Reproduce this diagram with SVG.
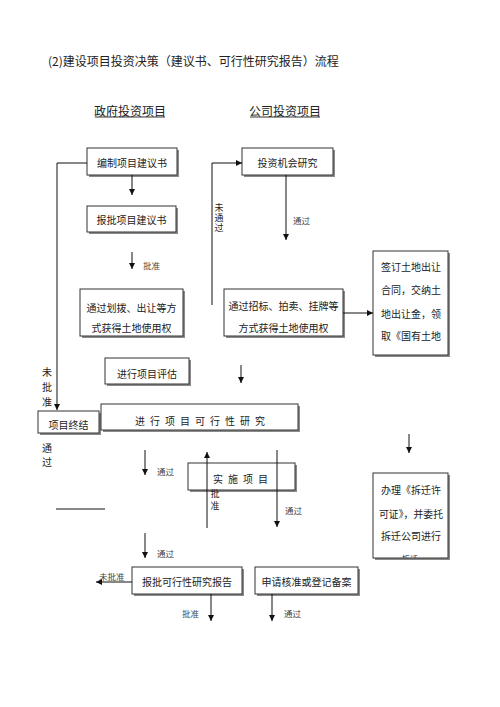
<svg xmlns="http://www.w3.org/2000/svg" width="500" height="707" viewBox="0 0 500 707">
<style>
text{font-family:"Noto Sans CJK SC","Noto Sans",sans-serif;fill:#222;dominant-baseline:central}
.t{font-size:12px}
.b{font-size:10px;text-anchor:middle}
.bs{font-size:10px}
.s{font-size:8.5px;fill:#444}
.vt{writing-mode:vertical-rl;text-anchor:start}
.sh{fill:#8a8a8a}
.bx{fill:#fff;stroke:#333;stroke-width:1}
.c{fill:none;stroke:#111;stroke-width:1}
.u{stroke:#333;stroke-width:1}
</style>
<defs>
<marker id="ah" markerUnits="userSpaceOnUse" markerWidth="6" markerHeight="6" refX="6" refY="3" orient="auto"><path d="M0,0 L6,3 L0,6 z" fill="#111"/></marker>
<clipPath id="clip11"><rect x="373" y="473" width="75" height="85"/></clipPath>
</defs>
<rect width="500" height="707" fill="#fff"/>
<g id="title">
<text class="t" x="48" y="60">(2)建设项目投资决策（建议书、可行性研究报告）流程</text>
</g>
<g id="headers">
<text class="t" x="130" y="110" text-anchor="middle">政府投资项目</text>
<line class="u" x1="95" y1="117" x2="165" y2="117"/>
<text class="t" x="285" y="110" text-anchor="middle">公司投资项目</text>
<line class="u" x1="250" y1="117" x2="320" y2="117"/>
</g>
<g id="n1"><rect class="sh" x="89" y="150" width="90" height="27"/><rect class="bx" x="87" y="148" width="90" height="27"/><text class="b" x="132" y="162">编制项目建议书</text></g>
<g id="n2"><rect class="sh" x="89" y="208" width="89" height="26"/><rect class="bx" x="87" y="206" width="89" height="26"/><text class="b" x="131.5" y="219">报批项目建议书</text></g>
<g id="n3"><rect class="sh" x="82" y="291" width="103" height="47"/><rect class="bx" x="80" y="289" width="103" height="47"/><text class="b" x="131.5" y="307">通过划拨、出让等方</text><text class="b" x="131.5" y="327">式获得土地使用权</text></g>
<g id="n4"><rect class="sh" x="244" y="150" width="91" height="27"/><rect class="bx" x="242" y="148" width="91" height="27"/><text class="b" x="287.5" y="162">投资机会研究</text></g>
<g id="n5"><rect class="sh" x="226" y="291" width="119" height="47"/><rect class="bx" x="224" y="289" width="119" height="47"/><text class="b" x="283.5" y="305">通过招标、拍卖、挂牌等</text><text class="b" x="283.5" y="327">方式获得土地使用权</text></g>
<g id="n6"><rect class="sh" x="375" y="253" width="75" height="104"/><rect class="bx" x="373" y="251" width="75" height="104"/><text class="bs" x="381" y="266">签订土地出让</text><text class="bs" x="381" y="289">合同，交纳土</text><text class="bs" x="381" y="313">地出让金，领</text><text class="bs" x="381" y="335">取《国有土地</text></g>
<g id="n7"><rect class="sh" x="107" y="360" width="84" height="26"/><rect class="bx" x="105" y="358" width="84" height="26"/><text class="b" x="147" y="373">进行项目评估</text></g>
<g id="n8"><rect class="sh" x="40" y="413" width="61" height="22"/><rect class="bx" x="38" y="411" width="61" height="22"/><text class="b" x="68.5" y="424">项目终结</text></g>
<g id="n9"><rect class="sh" x="103" y="406" width="197" height="26"/><rect class="bx" x="101" y="404" width="197" height="26"/><text class="bs" x="135" y="420" textLength="130" lengthAdjust="spacing">进 行 项 目 可 行 性 研 究</text></g>
<g id="n10"><rect class="sh" x="190" y="465" width="107" height="27"/><rect class="bx" x="188" y="463" width="107" height="27"/><text class="bs" x="213" y="478" textLength="55" lengthAdjust="spacing">实 施 项 目</text></g>
<g id="n11"><rect class="sh" x="375" y="475" width="75" height="85"/><rect class="bx" x="373" y="473" width="75" height="85"/><text class="bs" x="381" y="489">办理《拆迁许</text><text class="bs" x="379" y="513" textLength="64" lengthAdjust="spacingAndGlyphs">可证》，并委托</text><text class="bs" x="381" y="535">拆迁公司进行</text><g clip-path="url(#clip11)"><text class="b" x="410" y="558" style="font-size:8px">拆迁</text></g></g>
<g id="n12"><rect class="sh" x="134" y="569" width="110" height="27"/><rect class="bx" x="132" y="567" width="110" height="27"/><text class="b" x="187" y="581">报批可行性研究报告</text></g>
<g id="n13"><rect class="sh" x="257" y="569" width="103" height="27"/><rect class="bx" x="255" y="567" width="103" height="27"/><text class="b" x="306.5" y="581">申请核准或登记备案</text></g>
<g id="connectors">
<path class="c" d="M87,163 H57 V410" marker-end="url(#ah)"/>
<path class="c" d="M132,175 V195" marker-end="url(#ah)"/>
<path class="c" d="M132,252 V269" marker-end="url(#ah)"/>
<path class="c" d="M212,305 V163 H242" marker-end="url(#ah)"/>
<path class="c" d="M286,175 V240" marker-end="url(#ah)"/>
<path class="c" d="M343,313 H373" marker-end="url(#ah)"/>
<path class="c" d="M409,434 V453" marker-end="url(#ah)"/>
<path class="c" d="M241,365 V383" marker-end="url(#ah)"/>
<path class="c" d="M145,450 V475" marker-end="url(#ah)"/>
<path class="c" d="M207,528 V452" marker-end="url(#ah)"/>
<path class="c" d="M277,450 V527" marker-end="url(#ah)"/>
<path class="c" d="M56,509 H105"/>
<path class="c" d="M145,533 V558" marker-end="url(#ah)"/>
<path class="c" d="M132,582 H96" marker-end="url(#ah)"/>
<path class="c" d="M211,594 V621" marker-end="url(#ah)"/>
<path class="c" d="M272,594 V621" marker-end="url(#ah)"/>
</g>
<g id="labels">
<text class="s" x="143" y="265">批准</text>
<text class="s" x="293" y="220">通过</text>
<text class="vt" x="219" y="203" style="font-size:9px;letter-spacing:1px">未通过</text>
<text class="vt" x="47" y="367" style="font-size:10px;letter-spacing:5px">未批准</text>
<text class="vt" x="47" y="443" style="font-size:10px;letter-spacing:4px">通过</text>
<text class="vt" x="215" y="489" style="font-size:9px;letter-spacing:3px">批准</text>
<text class="s" x="157" y="471">通过</text>
<text class="s" x="285" y="510">通过</text>
<text class="s" x="157" y="553">通过</text>
<text class="s" x="99" y="576">未批准</text>
<text class="s" x="182" y="613">批准</text>
<text class="s" x="284" y="613">通过</text>
</g>
</svg>
